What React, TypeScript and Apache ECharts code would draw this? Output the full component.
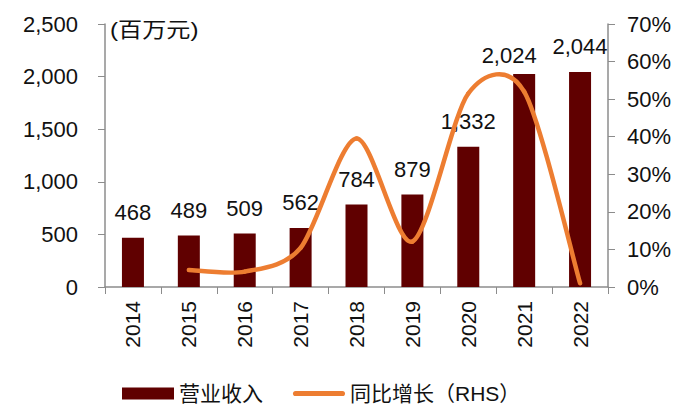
import React, { useEffect, useRef } from "react";
import * as echarts from "echarts";

const years = ["2014", "2015", "2016", "2017", "2018", "2019", "2020", "2021", "2022"];
const revenue = [468, 489, 509, 562, 784, 879, 1332, 2024, 2044];
const growth: (number | null)[] = [null, 4.5, 4.1, 10.4, 39.5, 12.1, 51.5, 52.0, 1.0];
const seriesNames = ["营业收入", "同比增长（RHS）"];
const unitLabel = "(百万元)";

const FONT = "'Liberation Sans', Arial, 'Noto Sans CJK SC', sans-serif";
const CJK = "'Liberation Sans', 'Noto Sans CJK SC', sans-serif";
const ORANGE = "#ED7D31";
const BAR = "#600000";

export default function App() {
  const ref = useRef<HTMLDivElement>(null);
  useEffect(() => {
    if (!ref.current) return;
    const chart = echarts.init(ref.current, null, { renderer: "svg" });
    const axisColor = "#8c8c8c";

    const pt = (api: any, k: number) => {
      const n = growth.length;
      let j = Math.max(0, Math.min(n - 1, k));
      if (growth[j] == null) j = j + 1;
      return api.coord([j, growth[j]]);
    };
    const tension = 1 / 7;

    const renderSpline = (params: any, api: any) => {
      const i = params.dataIndex;
      if (i < 1 || growth[i - 1] == null || growth[i] == null) return null;
      const firstIdx = growth.findIndex((v) => v != null);
      const p0 = i - 2 < firstIdx ? pt(api, i - 1) : pt(api, i - 2);
      const p1 = pt(api, i - 1);
      const p2 = pt(api, i);
      const p3 = i + 1 > growth.length - 1 ? pt(api, i) : pt(api, i + 1);
      const c1 = [p1[0] + (p2[0] - p0[0]) * tension, p1[1] + (p2[1] - p0[1]) * tension];
      const c2 = [p2[0] - (p3[0] - p1[0]) * tension, p2[1] - (p3[1] - p1[1]) * tension];
      return {
        type: "bezierCurve",
        shape: {
          x1: p1[0], y1: p1[1], x2: p2[0], y2: p2[1],
          cpx1: c1[0], cpy1: c1[1], cpx2: c2[0], cpy2: c2[1],
        },
        style: { stroke: ORANGE, lineWidth: 4.5, fill: null, lineCap: "round" },
      };
    };

    const barData = revenue.map((v, i) =>
      i === 7 ? { value: v, label: { offset: [-15, 6] } } : v
    );

    chart.setOption({
      animation: false,
      backgroundColor: "#ffffff",
      textStyle: { fontFamily: FONT },
      grid: { left: 105, right: 92, top: 24, bottom: 133, containLabel: false },
      graphic: [
        {
          type: "text",
          left: 110,
          top: 20,
          scaleX: 1.15,
          style: { text: unitLabel, font: `21px ${CJK}`, fill: "#111" },
        },
      ],
      legend: {
        top: 383,
        left: 122,
        padding: 0,
        itemWidth: 52,
        itemHeight: 12,
        itemGap: 30,
        textStyle: { fontSize: 21, color: "#111", fontFamily: CJK },
        data: [
          { name: seriesNames[0], icon: "rect" },
          {
            name: seriesNames[1],
            icon: "path://M5,0 H95 A5,5 0 0 1 95,10 H5 A5,5 0 0 1 5,0 Z",
          },
        ],
      },
      xAxis: {
        type: "category",
        data: years,
        axisLine: { lineStyle: { color: axisColor, width: 1.5 } },
        axisTick: { show: true, alignWithLabel: false, length: 7, lineStyle: { color: axisColor } },
        axisLabel: { rotate: 90, fontSize: 21, color: "#111", margin: 14, fontFamily: FONT },
      },
      yAxis: [
        {
          type: "value",
          min: 0,
          max: 2500,
          interval: 500,
          axisLine: { show: true, lineStyle: { color: axisColor, width: 1.5 } },
          axisTick: { show: true, length: 7, lineStyle: { color: axisColor } },
          splitLine: { show: false },
          axisLabel: {
            fontSize: 22,
            color: "#111",
            margin: 27,
            fontFamily: FONT,
            formatter: (v: number) => v.toLocaleString("en-US"),
          },
        },
        {
          type: "value",
          min: 0,
          max: 70,
          interval: 10,
          position: "right",
          axisLine: { show: true, lineStyle: { color: axisColor, width: 1.5 } },
          axisTick: { show: true, length: 7, lineStyle: { color: axisColor } },
          splitLine: { show: false },
          axisLabel: {
            fontSize: 22,
            color: "#111",
            margin: 19,
            fontFamily: FONT,
            formatter: (v: number) => `${v}%`,
          },
        },
      ],
      series: [
        {
          name: seriesNames[0],
          type: "bar",
          data: barData,
          barWidth: 22,
          itemStyle: { color: BAR },
          label: {
            show: true,
            position: "top",
            distance: 14,
            fontSize: 22,
            color: "#111",
            fontFamily: FONT,
            formatter: (p: any) => Number(p.value).toLocaleString("en-US"),
          },
          z: 2,
        },
        {
          name: seriesNames[1],
          type: "custom",
          yAxisIndex: 1,
          data: growth.map((v, i) => [i, v]),
          encode: { x: 0, y: 1 },
          renderItem: renderSpline,
          itemStyle: { color: ORANGE },
          clip: false,
          z: 3,
        },
      ],
    });
    return () => chart.dispose();
  }, []);
  return (
    <div
      ref={ref}
      style={{ position: "absolute", left: 0, top: 0, width: 700, height: 420 }}
    />
  );
}
